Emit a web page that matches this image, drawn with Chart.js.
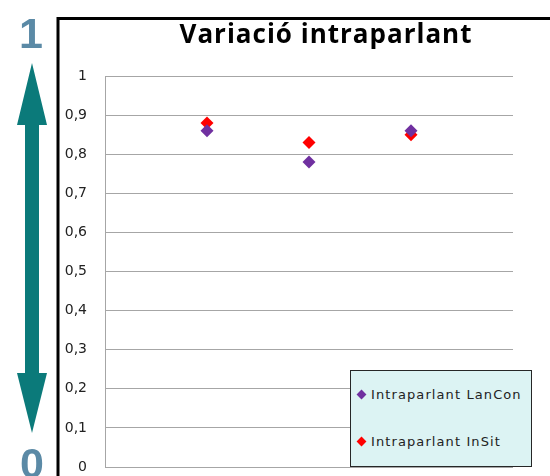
<!DOCTYPE html>
<html>
<head>
<meta charset="utf-8">
<script src="https://cdn.jsdelivr.net/npm/chart.js@4/dist/chart.umd.min.js"></script>
<style>
  html, body { margin: 0; padding: 0; background: #fff; }
  #wrap { position: relative; width: 550px; height: 476px; overflow: hidden; }
  #legend {
    position: absolute; left: 350px; top: 370px; width: 180px; height: 95px;
    background: #dcf3f3; border: 1.5px solid #262626;
    font: 13px "DejaVu Sans", sans-serif; color: #222; letter-spacing: 1.1px;
  }
  #legend div { position: absolute; left: 7px; white-space: nowrap; }
  #legend span.mk {
    display: inline-block; width: 7px; height: 7px; transform: rotate(45deg);
    margin-right: 6px; vertical-align: 1px;
  }
</style>
</head>
<body>
<div id="wrap">
  <canvas id="chart" width="550" height="476"></canvas>
  <div id="legend"></div>
</div>
<script>
const chartTitle = 'Variació intraparlant';
const categories = [1, 2, 3];
const seriesNames = ['Intraparlant LanCon', 'Intraparlant InSit'];
const lanCon = [0.86, 0.78, 0.86];
const inSit = [0.88, 0.83, 0.85];
const seriesColors = ['#7030a0', '#ff0000'];
const yTicks = { min: 0, max: 1, step: 0.1 };
const scaleEnds = ['1', '0'];

document.addEventListener('DOMContentLoaded', () => {
  const ctx = document.getElementById('chart').getContext('2d');

  // arrow, 1/0 labels, outer frame and title
  const decor = {
    id: 'decor',
    beforeDraw(chart) {
      const c = chart.ctx;
      c.save();
      c.fillStyle = '#0b7a7a';
      c.beginPath();
      c.moveTo(32, 63);
      c.lineTo(47, 125);
      c.lineTo(39, 125);
      c.lineTo(39, 373);
      c.lineTo(47, 373);
      c.lineTo(32, 433);
      c.lineTo(17, 373);
      c.lineTo(25, 373);
      c.lineTo(25, 125);
      c.lineTo(17, 125);
      c.closePath();
      c.fill();

      c.fillStyle = '#5b8aa6';
      c.font = 'bold 43px "Liberation Sans", sans-serif';
      c.textAlign = 'center';
      c.fillText(scaleEnds[0], 31, 48);
      c.fillText(scaleEnds[1], 32, 478);

      c.strokeStyle = '#000';
      c.lineWidth = 3;
      c.beginPath();
      c.moveTo(58, 480);
      c.lineTo(58, 18.5);
      c.lineTo(552, 18.5);
      c.stroke();

      c.fillStyle = '#000';
      c.font = 'bold 26px "Open Sans", sans-serif';
      c.letterSpacing = '1px';
      c.fillText(chartTitle, 326, 43);
      c.restore();
    }
  };

  const chart = new Chart(ctx, {
    type: 'scatter',
    data: {
      datasets: [lanCon, inSit].map((vals, i) => ({
        label: seriesNames[i],
        data: categories.map((x, j) => ({ x: x, y: vals[j] })),
        pointStyle: 'rectRot',
        pointRadius: 6.5,
        pointHoverRadius: 6.5,
        borderWidth: 0,
        backgroundColor: seriesColors[i],
        borderColor: seriesColors[i],
      })),
    },
    options: {
      responsive: false,
      animation: false,
      layout: { padding: { left: 58, top: 76, right: 37, bottom: 9 } },
      plugins: {
        legend: { display: false },
        title: { display: false },
        tooltip: { enabled: false },
      },
      scales: {
        x: { type: 'linear', min: 0, max: categories.length + 1, display: false },
        y: {
          min: yTicks.min,
          max: yTicks.max,
          afterFit: scale => {
            scale.width = 47;
            scale.paddingTop = 0;
            scale.paddingBottom = 0;
          },
          ticks: {
            stepSize: yTicks.step,
            padding: 18,
            color: '#222',
            font: { family: '"DejaVu Sans", sans-serif', size: 14 },
            callback: v => String(Math.round(v * 10) / 10).replace('.', ','),
          },
          grid: { color: '#a6a6a6', lineWidth: 1, drawTicks: false },
          border: { color: '#a6a6a6', width: 1 },
        },
      },
    },
    plugins: [decor],
  });

  const legend = document.getElementById('legend');
  chart.data.datasets.forEach((ds, i) => {
    const row = document.createElement('div');
    row.style.top = (i === 0 ? 16 : 63) + 'px';
    row.innerHTML = `<span class="mk" style="background:${ds.backgroundColor}"></span>${ds.label}`;
    legend.appendChild(row);
  });
});
</script>
</body>
</html>
